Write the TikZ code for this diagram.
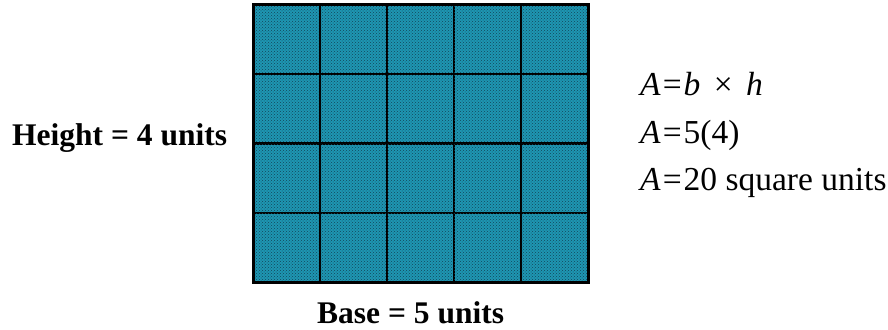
\documentclass[tikz,border=0pt]{standalone}
\usepackage{fontspec}
\setmainfont{Liberation Serif}
\newfontfamily\timesfont{Liberation Serif}
\usepackage{tikz}
\usetikzlibrary{positioning, patterns}

\definecolor{cellteal}{RGB}{30,150,178}
\definecolor{dotdark}{RGB}{20,70,90}

\begin{document}
\begin{tikzpicture}[x=1pt, y=-1pt,
    label/.style={font=\timesfont\fontsize{31.5}{36}\selectfont\bfseries, inner sep=0pt, anchor=base west},
    formula/.style={font=\timesfont\fontsize{33.5}{38}\selectfont, inner sep=0pt, anchor=base west},
    cell/.style={draw=black, line width=2.4pt, fill=cellteal, postaction={pattern=crosshatch dots, pattern color=dotdark}}
]
    \useasboundingbox (0,0) rectangle (888,329);

    % grid of unit squares
    \foreach \col in {0,...,4} {
        \foreach \row in {0,...,3} {
            \draw[cell] ({253+67*\col},{5+69.25*\row}) rectangle ++(67,69.25);
        }
    }
    \draw[line width=3pt] (253,5) rectangle (588,282);

    \node[label] (height) at (12,145) {Height = 4 units};
    \node[label] (base) at (317,323) {Base = 5 units};

    \node[formula] (f1) at (640,95) {\textit{A}\hspace{0.06em}=\hspace{0.06em}\textit{b}\hspace{0.4em}×\hspace{0.4em}\textit{h}};
    \node[formula] (f2) at (640,143) {\textit{A}\hspace{0.06em}=\hspace{0.06em}5(4)};
    \node[formula] (f3) at (640,190) {\textit{A}\hspace{0.06em}=\hspace{0.06em}20 square units};
\end{tikzpicture}
\end{document}
